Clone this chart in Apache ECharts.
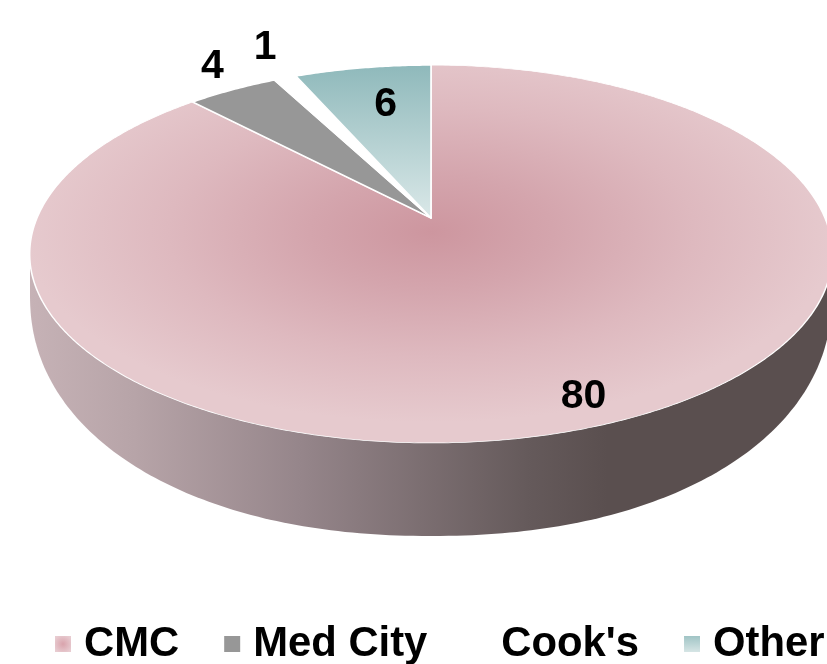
<!DOCTYPE html>
<html>
<head>
<meta charset="utf-8">
<style>html,body{margin:0;padding:0;background:#fff}#chart{width:827px;height:664px}</style>
<script src="https://cdn.jsdelivr.net/npm/echarts@6/dist/echarts.min.js"></script>
</head>
<body>
<div id="chart"></div>
<script>
// Clinic share data, drawn clockwise from twelve o'clock.
const categories = ['CMC', 'Med City', "Cook's", 'Other'];
const values = [80, 4, 1, 6];

// Disc projection: the pie centre sits above the middle of the rim ellipse.
const APEX = { x: 431, y: 218 };
const K_X = 394, K_Y = 140.6, PERSPECTIVE = -0.1905;
// Lower edge of the side wall, a slightly squared ellipse.
const BASE = { cx: 431, cy: 295, rx: 401, ry: 241, power: 2.15 };
// Label offsets from the middle of each slice's rim.
const labelOffsets = [[-25, -27], [-20, -23], [-20, -30], [23, 37]];
const FONT = '"Liberation Sans", Arial, sans-serif';
// Radial shading is squashed so it follows the disc.
const SHADE_SCALE = 0.47;

const fills = [
  { type: 'radial', x: 431, y: 232 / SHADE_SCALE, r: 405, global: true,
    colorStops: [{ offset: 0, color: '#cd969f' }, { offset: 0.3, color: '#d4a5ad' },
                 { offset: 0.65, color: '#deb9bf' }, { offset: 1, color: '#e6cace' }] },
  '#979797',
  '#ffffff',
  { type: 'linear', x: 0, y: 65, x2: 0, y2: 218, global: true,
    colorStops: [{ offset: 0, color: '#8fb9bb' }, { offset: 1, color: '#dae8e8' }] }
];
const swatches = [
  { type: 'radial', x: 0.5, y: 0.5, r: 0.6,
    colorStops: [{ offset: 0, color: '#d9a3ac' }, { offset: 1, color: '#e8ccd1' }] },
  '#979797',
  '#ffffff',
  { type: 'linear', x: 0, y: 0, x2: 0, y2: 1,
    colorStops: [{ offset: 0, color: '#a0c4c5' }, { offset: 1, color: '#d6e5e5' }] }
];

const total = values.reduce((a, b) => a + b, 0);

function project(share, radius) {
  // share runs 0..1 clockwise from the top of the disc
  const a = share * Math.PI * 2;
  const X = Math.sin(a) * radius, Y = -Math.cos(a) * radius;
  const d = 1 + PERSPECTIVE * Y;
  return [APEX.x + K_X * X / d, (APEX.y + K_Y * Y) / d];
}

function slicePoints(from, to) {
  const steps = Math.max(2, Math.ceil((to - from) * 720));
  const pts = [[APEX.x, APEX.y]];
  for (let i = 0; i <= steps; i++) pts.push(project(from + (to - from) * i / steps, 1));
  return pts;
}

function wallPoints() {
  const pts = [];
  const e = 2 / BASE.power;
  for (let deg = 0; deg <= 180; deg++) {
    const t = deg * Math.PI / 180;
    const c = Math.cos(t), s = Math.sin(t);
    pts.push([BASE.cx + BASE.rx * Math.sign(c) * Math.pow(Math.abs(c), e),
              BASE.cy + BASE.ry * Math.pow(s, e)]);
  }
  pts.push([BASE.cx - BASE.rx, APEX.y + 36]);
  pts.push([BASE.cx + BASE.rx, APEX.y + 36]);
  return pts;
}

function renderSlice(index) {
  return function (params, api) {
    const value = api.value(0);
    let before = 0;
    for (let i = 0; i < index; i++) before += values[i];
    const from = before / total, to = (before + value) / total;
    const rim = project((from + to) / 2, 1);
    const off = labelOffsets[index];
    const children = [];
    if (index === 0) {
      children.push({
        type: 'polygon',
        shape: { points: wallPoints() },
        style: {
          fill: { type: 'linear', x: 30, y: 0, x2: 832, y2: 0, global: true,
            colorStops: [{ offset: 0, color: '#c6b2b6' }, { offset: 0.13, color: '#b7a4a8' },
                         { offset: 0.34, color: '#95858a' }, { offset: 0.62, color: '#655a5b' },
                         { offset: 0.72, color: '#5a4f4f' }, { offset: 1, color: '#5a4f4f' }] }
        }
      });
    }
    const squash = index === 0 ? SHADE_SCALE : 1;
    children.push({
      type: 'polygon',
      scaleY: squash,
      shape: { points: slicePoints(from, to).map(p => [p[0], p[1] / squash]) },
      style: { fill: fills[index], stroke: '#ffffff', lineWidth: 1.6, strokeNoScale: true, lineJoin: 'round' }
    });
    children.push({
      type: 'text',
      z2: 10,
      style: {
        x: rim[0] + off[0], y: rim[1] + off[1],
        text: String(value), align: 'center', verticalAlign: 'middle',
        font: 'bold 41px ' + FONT, fill: '#000000'
      }
    });
    return { type: 'group', children };
  };
}

const chart = echarts.init(document.getElementById('chart'), null, { renderer: 'canvas' });
chart.setOption({
  animation: false,
  backgroundColor: '#ffffff',
  legend: {
    left: 55,
    top: 623,
    width: 1000,
    padding: 0,
    itemWidth: 16,
    itemHeight: 16,
    itemGap: 45,
    icon: 'rect',
    selectedMode: false,
    textStyle: { fontFamily: FONT, fontWeight: 'bold', fontSize: 41.8, color: '#000000', padding: [8, 0, 0, 8] },
    data: categories.map((name, i) => ({ name, itemStyle: { color: swatches[i] } }))
  },
  series: categories.map((name, i) => ({
    type: 'custom',
    name,
    coordinateSystem: 'none',
    silent: true,
    clip: false,
    data: [[values[i]]],
    renderItem: renderSlice(i)
  }))
});
</script>
</body>
</html>
